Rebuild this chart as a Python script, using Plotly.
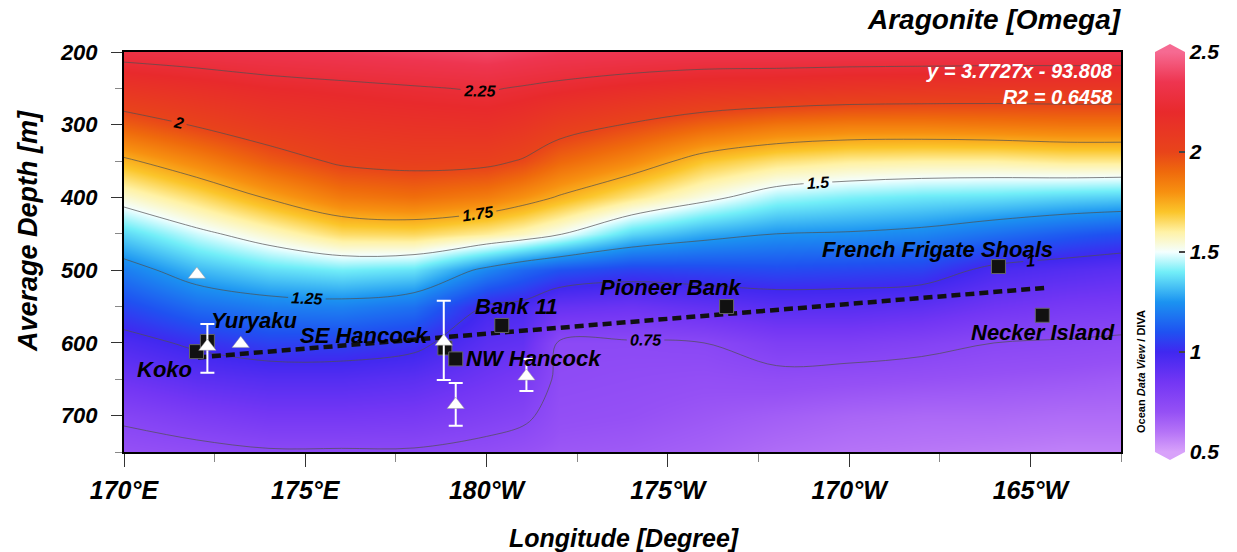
import plotly.graph_objects as go

# ---------------- data ----------------
lon_grid = [170, 172, 174, 176, 178, 180, 181, 182, 184, 186, 188, 190, 192, 194, 196, 197.5]
depth_grid = [200, 250, 300, 350, 400, 450, 500, 550, 600, 650, 700, 750]
omega = [
    [2.30, 2.32, 2.34, 2.36, 2.38, 2.40, 2.38, 2.36, 2.35, 2.34, 2.34, 2.34, 2.34, 2.34, 2.34, 2.34],
    [2.12, 2.16, 2.20, 2.22, 2.24, 2.26, 2.24, 2.22, 2.18, 2.15, 2.14, 2.12, 2.11, 2.10, 2.10, 2.10],
    [1.93, 2.01, 2.08, 2.12, 2.14, 2.15, 2.12, 2.06, 1.99, 1.92, 1.87, 1.85, 1.85, 1.86, 1.87, 1.87],
    [1.73, 1.83, 1.94, 2.02, 2.04, 2.03, 1.99, 1.91, 1.82, 1.70, 1.64, 1.61, 1.60, 1.60, 1.62, 1.62],
    [1.55, 1.65, 1.76, 1.86, 1.89, 1.85, 1.80, 1.74, 1.63, 1.53, 1.44, 1.41, 1.39, 1.38, 1.36, 1.35],
    [1.36, 1.47, 1.56, 1.65, 1.66, 1.61, 1.57, 1.51, 1.36, 1.29, 1.25, 1.24, 1.22, 1.17, 1.12, 1.09],
    [1.20, 1.31, 1.37, 1.40, 1.38, 1.22, 1.15, 1.10, 1.06, 1.07, 1.08, 1.07, 1.06, 0.97, 0.94, 0.92],
    [1.07, 1.16, 1.20, 1.21, 1.17, 0.99, 0.97, 0.89, 0.87, 0.90, 0.93, 0.93, 0.91, 0.86, 0.83, 0.82],
    [0.96, 1.02, 1.06, 1.06, 1.03, 0.92, 0.90, 0.74, 0.74, 0.75, 0.80, 0.80, 0.78, 0.75, 0.74, 0.73],
    [0.87, 0.92, 0.94, 0.94, 0.92, 0.86, 0.83, 0.73, 0.72, 0.71, 0.72, 0.71, 0.70, 0.69, 0.68, 0.67],
    [0.77, 0.81, 0.84, 0.84, 0.83, 0.79, 0.77, 0.71, 0.70, 0.68, 0.66, 0.64, 0.63, 0.63, 0.62, 0.62],
    [0.70, 0.72, 0.74, 0.74, 0.74, 0.72, 0.70, 0.68, 0.67, 0.65, 0.62, 0.60, 0.59, 0.58, 0.57, 0.57],
]

site_names = ["Koko", "Yuryaku", "SE Hancock", "NW Hancock", "Bank 11",
              "Pioneer Bank", "French Frigate Shoals", "Necker Island"]
site_lon = [172.0, 172.3, 178.85, 179.15, 180.42, 186.62, 194.12, 195.33]
site_depth = [612, 598, 607, 622, 576, 550, 495, 562]
label_lon = [171.13, 173.61, 176.64, 181.30, 180.83, 185.10, 192.44, 195.36]
label_depth = [637, 569, 590, 622, 550, 524, 471, 586]

tri_lon = [172.01, 173.22]
tri_depth = [506, 601]
tri_err_lon = [172.3, 178.82, 179.15, 181.1]
tri_err_depth = [605, 598, 685, 646]
tri_err_plus = [36, 53, 29, 20]
tri_err_minus = [31, 56, 30, 24]

trend_lon = [172.04, 195.47]
trend_depth = [620, 524]
trend_text = "y = 3.7727x - 93.808<br>R2 = 0.6458"

x_tickvals = [170, 175, 180, 185, 190, 195]
x_ticktext = ["170°E", "175°E", "180°W", "175°W", "170°W", "165°W"]
y_tickvals = [200, 300, 400, 500, 600, 700]
cb_tickvals = [0.5, 1, 1.5, 2, 2.5]
cb_ticktext = ["0.5", "1", "1.5", "2", "2.5"]

# ---------------- styling ----------------
FONT = "Liberation Sans, Arial, sans-serif"

colorscale = [
    [0.000, "#d8a2fa"],
    [0.050, "#b573f7"],
    [0.100, "#9550f5"],
    [0.175, "#7336f4"],
    [0.250, "#4028f0"],
    [0.300, "#1f52f1"],
    [0.375, "#1b93f1"],
    [0.450, "#72eef8"],
    [0.500, "#f4ffff"],
    [0.550, "#fff2a6"],
    [0.600, "#fbc52a"],
    [0.650, "#f79010"],
    [0.700, "#ef6a0c"],
    [0.750, "#e8441a"],
    [0.850, "#e82a2c"],
    [0.925, "#ee3550"],
    [1.000, "#f66a92"],
]

W, H = 1237, 552
ML, MR, MT, MB = 124, 116, 52, 100
PW = W - ML - MR
PH = H - MT - MB

fig = go.Figure()

fig.add_trace(go.Heatmap(
    x=lon_grid, y=depth_grid, z=omega,
    zmin=0.5, zmax=2.5, zsmooth="best",
    colorscale=colorscale,
    colorbar=dict(
        x=(1155 - ML) / PW, xanchor="left", xpad=0, ypad=0,
        y=0.5, yanchor="middle", len=1, lenmode="fraction",
        thickness=30, outlinewidth=0,
        tickmode="array", tickvals=cb_tickvals, ticktext=cb_ticktext,
        ticks="inside", ticklen=6, tickwidth=1.5, tickcolor="#444",
        tickfont=dict(family=FONT, size=21, color="black", weight="bold", style="italic"),
    ),
    hoverinfo="skip",
))

fig.add_trace(go.Contour(
    x=lon_grid, y=depth_grid, z=omega,
    contours=dict(start=0.75, end=2.25, size=0.25, coloring="none",
                  showlabels=True,
                  labelfont=dict(family=FONT, size=16, color="black",
                                 weight="bold", style="italic")),
    line=dict(color="rgba(80,80,80,0.7)", width=1, smoothing=1.0),
    showscale=False, hoverinfo="skip",
))

fig.add_trace(go.Scatter(
    x=trend_lon, y=trend_depth, mode="lines",
    line=dict(color="#111", width=4.5, dash="9px,5px"),
    hoverinfo="skip",
))

fig.add_trace(go.Scatter(
    x=site_lon, y=site_depth, mode="markers",
    marker=dict(symbol="square", size=14, color="#111",
                line=dict(color="#666", width=1)),
    hoverinfo="skip",
))

fig.add_trace(go.Scatter(
    x=tri_err_lon, y=tri_err_depth, mode="markers",
    marker=dict(symbol="triangle-up", size=15, color="white",
                line=dict(color="#999", width=0.5)),
    error_y=dict(type="data", symmetric=False, array=tri_err_plus,
                 arrayminus=tri_err_minus, color="white", thickness=2, width=7),
    hoverinfo="skip",
))

fig.add_trace(go.Scatter(
    x=tri_lon, y=tri_depth, mode="markers",
    marker=dict(symbol="triangle-up", size=15, color="white",
                line=dict(color="#999", width=0.5)),
    hoverinfo="skip",
))

annotations = []
for name, lx, ly in zip(site_names, label_lon, label_depth):
    annotations.append(dict(
        x=lx, y=ly, xref="x", yref="y", text=name, showarrow=False,
        xanchor="center", yanchor="middle",
        font=dict(family=FONT, size=22, color="black", weight="bold", style="italic"),
    ))

annotations += [
    dict(x=(1115 - ML) / PW, y=(MT + PH - 84) / PH, xref="paper", yref="paper",
         text=trend_text, showarrow=False, xanchor="right", align="right",
         yanchor="middle",
         font=dict(family=FONT, size=20, color="white", weight="bold", style="italic")),
    dict(x=(994 - ML) / PW, y=(MT + PH - 20) / PH, xref="paper", yref="paper",
         text="Aragonite [Omega]", showarrow=False, xanchor="center", yanchor="middle",
         font=dict(family=FONT, size=28, color="black", weight="bold", style="italic")),
    dict(x=(28 - ML) / PW, y=(MT + PH - 231) / PH, xref="paper", yref="paper",
         text="Average Depth [m]", showarrow=False, textangle=-90,
         xanchor="center", yanchor="middle",
         font=dict(family=FONT, size=27, color="black", weight="bold", style="italic")),
    dict(x=(624 - ML) / PW, y=(MT + PH - 538) / PH, xref="paper", yref="paper",
         text="Longitude [Degree]", showarrow=False, xanchor="center", yanchor="middle",
         font=dict(family=FONT, size=25, color="black", weight="bold", style="italic")),
    dict(x=(1141 - ML) / PW, y=(MT + PH - 372) / PH, xref="paper", yref="paper",
         text="Ocean <i>Data View</i> / DIVA", showarrow=False, textangle=-90,
         xanchor="center", yanchor="middle",
         font=dict(family=FONT, size=11, color="black", weight="bold")),
]

# colorbar end triangles
cx0 = (1155 - ML) / PW
cx1 = (1185 - ML) / PW
cxm = (cx0 + cx1) / 2
tip = 8 / PH
shapes = [
    dict(type="path", xref="paper", yref="paper",
         path=f"M {cx0} 1 L {cx1} 1 L {cxm} {1 + tip} Z",
         fillcolor="#f66a92", line=dict(width=0)),
    dict(type="path", xref="paper", yref="paper",
         path=f"M {cx0} 0 L {cx1} 0 L {cxm} {-tip} Z",
         fillcolor="#d8a2fa", line=dict(width=0)),
]

fig.update_layout(
    width=W, height=H,
    margin=dict(l=ML, r=MR, t=MT, b=MB, autoexpand=False),
    paper_bgcolor="white", plot_bgcolor="white",
    showlegend=False,
    annotations=annotations,
    shapes=shapes,
    xaxis=dict(
        range=[170, 197.5], showgrid=False, zeroline=False,
        tickmode="array", tickvals=x_tickvals, ticktext=x_ticktext,
        ticks="outside", ticklen=13, tickwidth=1.2, tickcolor="#333",
        minor=dict(tickmode="array", tickvals=[172.5, 177.5, 182.5, 187.5, 192.5, 197.5],
                   ticks="outside", ticklen=8, tickcolor="#888", tickwidth=1),
        showline=True, linewidth=2, linecolor="black", mirror=True,
        ticklabelstandoff=2,
        tickfont=dict(family=FONT, size=25, color="black", weight="bold", style="italic"),
    ),
    yaxis=dict(
        range=[750, 200], showgrid=False, zeroline=False,
        tickmode="array", tickvals=y_tickvals,
        ticks="outside", ticklen=11, tickwidth=1.2, tickcolor="#333",
        minor=dict(tickmode="array", tickvals=[250, 350, 450, 550, 650, 750],
                   ticks="outside", ticklen=7, tickcolor="#888", tickwidth=1),
        showline=True, linewidth=2, linecolor="black", mirror=True,
        ticklabelstandoff=9,
        tickfont=dict(family=FONT, size=22, color="black", weight="bold", style="italic"),
    ),
)

fig.write_html("out.html",
               config={"displayModeBar": False},
               post_script="document.body.style.margin='0';document.body.style.padding='0';document.body.style.overflow='hidden';")
